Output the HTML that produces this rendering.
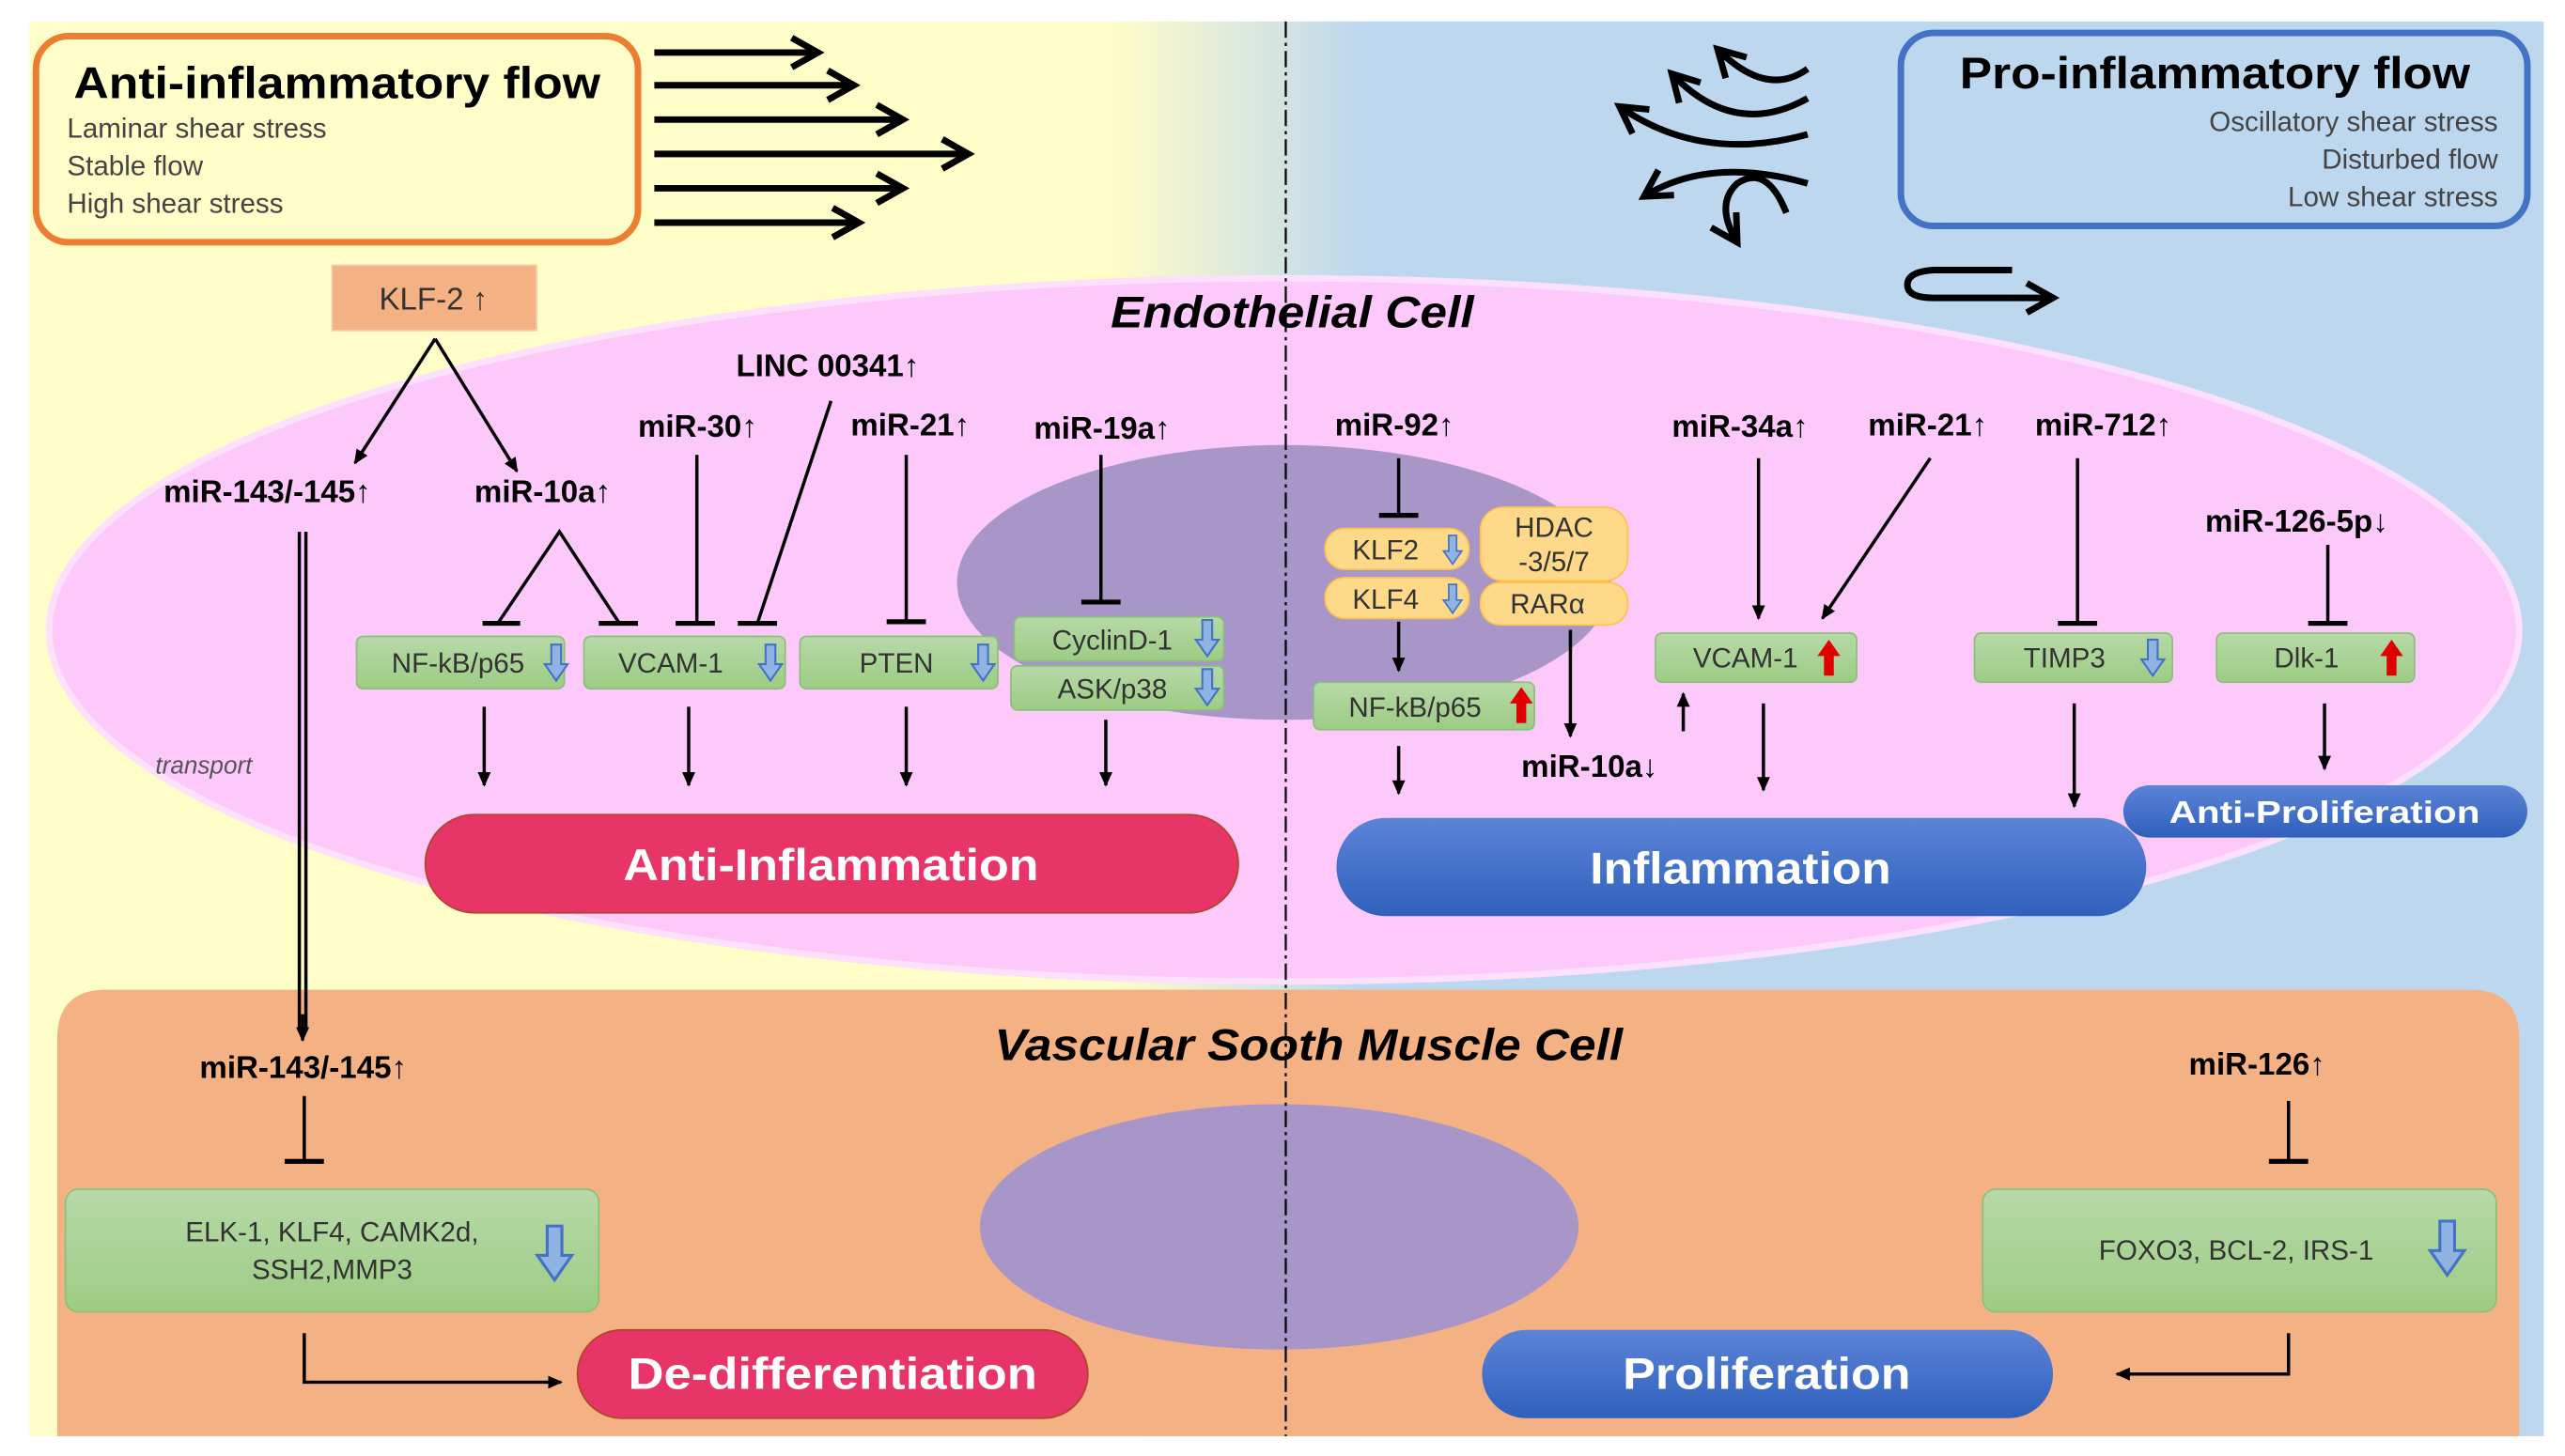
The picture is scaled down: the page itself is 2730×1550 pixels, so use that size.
<!DOCTYPE html>
<html><head><meta charset="utf-8"><style>
html,body{margin:0;padding:0;background:#fff}
svg{display:block}
text{font-family:"Liberation Sans",sans-serif}
</style></head><body>
<svg width="2730" height="1550" viewBox="0 0 1568 890" xmlns="http://www.w3.org/2000/svg">
<defs>
<linearGradient id="bg" x1="0" x2="1" y1="0" y2="0">
<stop offset="0" stop-color="#fffdc8"/><stop offset="0.43" stop-color="#fffdc8"/><stop offset="0.53" stop-color="#bdd7ee"/><stop offset="1" stop-color="#bdd7ee"/></linearGradient>
<linearGradient id="gr" x1="0" y1="0" x2="0" y2="1"><stop offset="0" stop-color="#b7d9a8"/><stop offset="1" stop-color="#9dcc84"/></linearGradient>
<linearGradient id="bl" x1="0" y1="0" x2="0" y2="1"><stop offset="0" stop-color="#5b84d6"/><stop offset="1" stop-color="#2f60bd"/></linearGradient>
<marker id="ah" markerWidth="10" markerHeight="10" refX="8" refY="5" orient="auto" markerUnits="userSpaceOnUse"><path d="M0,1 L9,5 L0,9 Z" fill="#000"/></marker>
<marker id="oh" markerWidth="24" markerHeight="24" refX="20" refY="12" orient="auto" markerUnits="userSpaceOnUse"><path d="M4,3 L20,12 L4,21" fill="none" stroke="#000" stroke-width="4"/></marker>
<g id="dn"><path d="M-3,-11 h6 v12 h4 l-7,10 l-7,-10 h4 z" fill="#8fb4e3" stroke="#4472c4" stroke-width="1.2"/></g>
<g id="up"><path d="M-3,11 h6 v-12 h4 l-7,-10 l-7,10 h4 z" fill="#e00000"/></g>
</defs>
<rect x="18" y="13" width="1537" height="865" fill="url(#bg)"/>
<ellipse cx="785" cy="385" rx="755" ry="215" fill="#fdc8fa" stroke="#fde0fb" stroke-width="4"/>
<ellipse cx="785" cy="356" rx="200" ry="84" fill="#a896c8"/>
<path d="M35,878 V635 Q35,605 65,605 H1510 Q1540,605 1540,635 V878 Z" fill="#f4b183"/>
<ellipse cx="782" cy="750" rx="183" ry="75" fill="#a896c8"/>
<line x1="786" y1="13" x2="786" y2="878" stroke="#000" stroke-width="1.3" stroke-dasharray="10,3,2,3"/>
<rect x="22" y="22" width="368" height="126" rx="20" fill="#fffdc8" stroke="#ed7d31" stroke-width="4"/>
<text x="45" y="60" font-size="27" font-weight="bold" textLength="322" lengthAdjust="spacingAndGlyphs">Anti-inflammatory flow</text>
<text x="41" y="84" font-size="17" fill="#444">Laminar shear stress</text>
<text x="41" y="107" font-size="17" fill="#444">Stable flow</text>
<text x="41" y="130" font-size="17" fill="#444">High shear stress</text>
<g stroke="#000" stroke-width="4" marker-end="url(#oh)">
<line x1="400" y1="32" x2="500" y2="32"/><line x1="400" y1="52" x2="522" y2="52"/><line x1="400" y1="73" x2="552" y2="73"/><line x1="400" y1="94" x2="592" y2="94"/><line x1="400" y1="115" x2="552" y2="115"/><line x1="400" y1="136" x2="525" y2="136"/>
</g>
<rect x="1162" y="20" width="383" height="118" rx="20" fill="#bdd7ee" stroke="#4472c4" stroke-width="4"/>
<text x="1510" y="54" font-size="27" font-weight="bold" text-anchor="end" textLength="312" lengthAdjust="spacingAndGlyphs">Pro-inflammatory flow</text>
<text x="1527" y="80" font-size="17" fill="#444" text-anchor="end">Oscillatory shear stress</text>
<text x="1527" y="103" font-size="17" fill="#444" text-anchor="end">Disturbed flow</text>
<text x="1527" y="126" font-size="17" fill="#444" text-anchor="end">Low shear stress</text>
<g fill="none" stroke="#000" stroke-width="4" marker-end="url(#oh)">
<path d="M1105,42 Q1080,60 1050,30"/>
<path d="M1105,60 Q1060,85 1022,45"/>
<path d="M1105,82 Q1040,100 990,65"/>
<path d="M1105,112 Q1045,95 1005,120"/>
<path d="M1092,130 Q1080,100 1062,112 Q1048,125 1062,148"/>
<path d="M1230,165 H1182 Q1166,166 1166,174 Q1166,182 1182,182 H1255"/>
</g>
<text x="790" y="200" font-size="27" font-weight="bold" font-style="italic" text-anchor="middle" textLength="222" lengthAdjust="spacingAndGlyphs">Endothelial Cell</text>
<rect x="203" y="162" width="125" height="40" fill="#f4b183" stroke="#f8cbad"/>
<text x="265" y="189" font-size="19" text-anchor="middle" fill="#333">KLF-2 ↑</text>
<g font-size="19" font-weight="bold">
<text x="100" y="307">miR-143/-145↑</text>
<text x="290" y="307">miR-10a↑</text>
<text x="390" y="267">miR-30↑</text>
<text x="450" y="230">LINC 00341↑</text>
<text x="520" y="266">miR-21↑</text>
<text x="632" y="268">miR-19a↑</text>
<text x="816" y="266">miR-92↑</text>
<text x="1022" y="267">miR-34a↑</text>
<text x="1142" y="266">miR-21↑</text>
<text x="1244" y="266">miR-712↑</text>
<text x="1348" y="325">miR-126-5p↓</text>
<text x="930" y="475">miR-10a↓</text>
<text x="122" y="659">miR-143/-145↑</text>
<text x="1338" y="657">miR-126↑</text>
</g>
<text x="95" y="473" font-size="15" font-style="italic" fill="#555">transport</text>
<g fill="url(#gr)" stroke="#8cc07a">
<rect x="218" y="389" width="127" height="32" rx="4"/><rect x="357" y="389" width="123" height="32" rx="4"/><rect x="489" y="389" width="121" height="32" rx="4"/>
<rect x="620" y="377" width="128" height="27" rx="4"/><rect x="618" y="407" width="130" height="27" rx="4"/>
<rect x="803" y="417" width="135" height="29" rx="4"/><rect x="1012" y="387" width="123" height="30" rx="4"/><rect x="1207" y="387" width="121" height="30" rx="4"/><rect x="1355" y="387" width="121" height="30" rx="4"/>
<rect x="40" y="727" width="326" height="75" rx="8"/><rect x="1212" y="727" width="314" height="75" rx="8"/>
</g>
<g fill="#ffd98a" stroke="#ffc24d">
<rect x="810" y="323" width="88" height="25" rx="12"/><rect x="810" y="353" width="88" height="25" rx="12"/>
<rect x="905" y="310" width="90" height="45" rx="14"/><rect x="905" y="356" width="90" height="26" rx="12"/>
</g>
<g font-size="17" fill="#333" text-anchor="middle">
<text x="280" y="411">NF-kB/p65</text><text x="410" y="411">VCAM-1</text><text x="548" y="411">PTEN</text>
<text x="680" y="397">CyclinD-1</text><text x="680" y="427">ASK/p38</text>
<text x="865" y="438">NF-kB/p65</text><text x="1067" y="408">VCAM-1</text><text x="1262" y="408">TIMP3</text><text x="1410" y="408">Dlk-1</text>
<text x="847" y="342">KLF2</text><text x="847" y="372">KLF4</text>
<text x="950" y="328">HDAC</text><text x="950" y="349">-3/5/7</text><text x="946" y="375">RARα</text>
<text x="203" y="759">ELK-1, KLF4, CAMK2d,</text><text x="203" y="782">SSH2,MMP3</text>
<text x="1367" y="770">FOXO3, BCL-2, IRS-1</text>
</g>
<use href="#dn" x="340" y="405"/><use href="#dn" x="471" y="405"/><use href="#dn" x="601" y="405"/><use href="#dn" x="738" y="390"/><use href="#dn" x="738" y="420"/>
<use href="#dn" transform="translate(888,336) scale(0.8)"/><use href="#dn" transform="translate(888,366) scale(0.8)"/>
<use href="#dn" x="1316" y="402"/>
<use href="#dn" transform="translate(339,766) scale(1.5)"/><use href="#dn" transform="translate(1496,763) scale(1.5)"/>
<use href="#up" x="930" y="431"/><use href="#up" x="1118" y="402"/><use href="#up" x="1462" y="402"/>
<g stroke="#000" stroke-width="2" fill="none">
<line x1="266" y1="207" x2="217" y2="283" marker-end="url(#ah)"/><line x1="266" y1="207" x2="316" y2="288" marker-end="url(#ah)"/>
<line x1="183" y1="325" x2="183" y2="630"/><line x1="187" y1="325" x2="187" y2="630"/>
<path d="M305,380 L342,325 L378,380"/>
<line x1="426" y1="278" x2="426" y2="381"/><line x1="508" y1="245" x2="463" y2="381"/><line x1="554" y1="278" x2="554" y2="380"/><line x1="673" y1="278" x2="673" y2="368"/>
<line x1="855" y1="280" x2="855" y2="315"/><line x1="1270" y1="280" x2="1270" y2="381"/><line x1="1423" y1="333" x2="1423" y2="381"/>
<line x1="186" y1="670" x2="186" y2="710"/><line x1="1399" y1="673" x2="1399" y2="710"/>
<line x1="1075" y1="280" x2="1075" y2="378" marker-end="url(#ah)"/><line x1="1180" y1="280" x2="1114" y2="378" marker-end="url(#ah)"/>
<line x1="296" y1="432" x2="296" y2="480" marker-end="url(#ah)"/><line x1="421" y1="432" x2="421" y2="480" marker-end="url(#ah)"/><line x1="554" y1="432" x2="554" y2="480" marker-end="url(#ah)"/><line x1="676" y1="440" x2="676" y2="480" marker-end="url(#ah)"/>
<line x1="855" y1="380" x2="855" y2="410" marker-end="url(#ah)"/><line x1="855" y1="456" x2="855" y2="485" marker-end="url(#ah)"/>
<line x1="960" y1="385" x2="960" y2="450" marker-end="url(#ah)"/><line x1="1029" y1="447" x2="1029" y2="424" marker-end="url(#ah)"/>
<line x1="1078" y1="430" x2="1078" y2="483" marker-end="url(#ah)"/><line x1="1268" y1="430" x2="1268" y2="493" marker-end="url(#ah)"/><line x1="1421" y1="430" x2="1421" y2="470" marker-end="url(#ah)"/>
<path d="M186,815 V845 H343" marker-end="url(#ah)"/><path d="M1399,815 V840 H1294" marker-end="url(#ah)"/>
</g>
<line x1="185" y1="620" x2="185" y2="636" stroke="#000" stroke-width="2" marker-end="url(#ah)"/>
<g stroke="#000" stroke-width="3">
<line x1="295" y1="381" x2="318" y2="381"/><line x1="366" y1="381" x2="390" y2="381"/><line x1="413" y1="381" x2="437" y2="381"/><line x1="451" y1="381" x2="475" y2="381"/><line x1="542" y1="380" x2="566" y2="380"/><line x1="661" y1="368" x2="685" y2="368"/>
<line x1="843" y1="315" x2="867" y2="315"/><line x1="1258" y1="381" x2="1282" y2="381"/><line x1="1411" y1="381" x2="1435" y2="381"/>
<line x1="174" y1="710" x2="198" y2="710"/><line x1="1387" y1="710" x2="1411" y2="710"/>
</g>
<rect x="260" y="498" width="497" height="60" rx="30" fill="#e83567" stroke="#b0452a"/>
<text x="508" y="538" font-size="27" font-weight="bold" fill="#fff" text-anchor="middle" textLength="254" lengthAdjust="spacingAndGlyphs">Anti-Inflammation</text>
<rect x="817" y="500" width="495" height="60" rx="30" fill="url(#bl)"/>
<text x="1064" y="540" font-size="27" font-weight="bold" fill="#fff" text-anchor="middle" textLength="184" lengthAdjust="spacingAndGlyphs">Inflammation</text>
<rect x="1298" y="480" width="247" height="32" rx="16" fill="url(#bl)"/>
<text x="1421" y="503" font-size="19" font-weight="bold" fill="#fff" text-anchor="middle" textLength="190" lengthAdjust="spacingAndGlyphs">Anti-Proliferation</text>
<text x="800" y="648" font-size="27" font-weight="bold" font-style="italic" text-anchor="middle" textLength="384" lengthAdjust="spacingAndGlyphs">Vascular Sooth Muscle Cell</text>
<rect x="353" y="813" width="312" height="54" rx="27" fill="#e83567" stroke="#b0452a"/>
<text x="509" y="849" font-size="27" font-weight="bold" fill="#fff" text-anchor="middle" textLength="250" lengthAdjust="spacingAndGlyphs">De-differentiation</text>
<rect x="906" y="813" width="349" height="54" rx="27" fill="url(#bl)"/>
<text x="1080" y="849" font-size="27" font-weight="bold" fill="#fff" text-anchor="middle" textLength="176" lengthAdjust="spacingAndGlyphs">Proliferation</text>
</svg>
</body></html>
